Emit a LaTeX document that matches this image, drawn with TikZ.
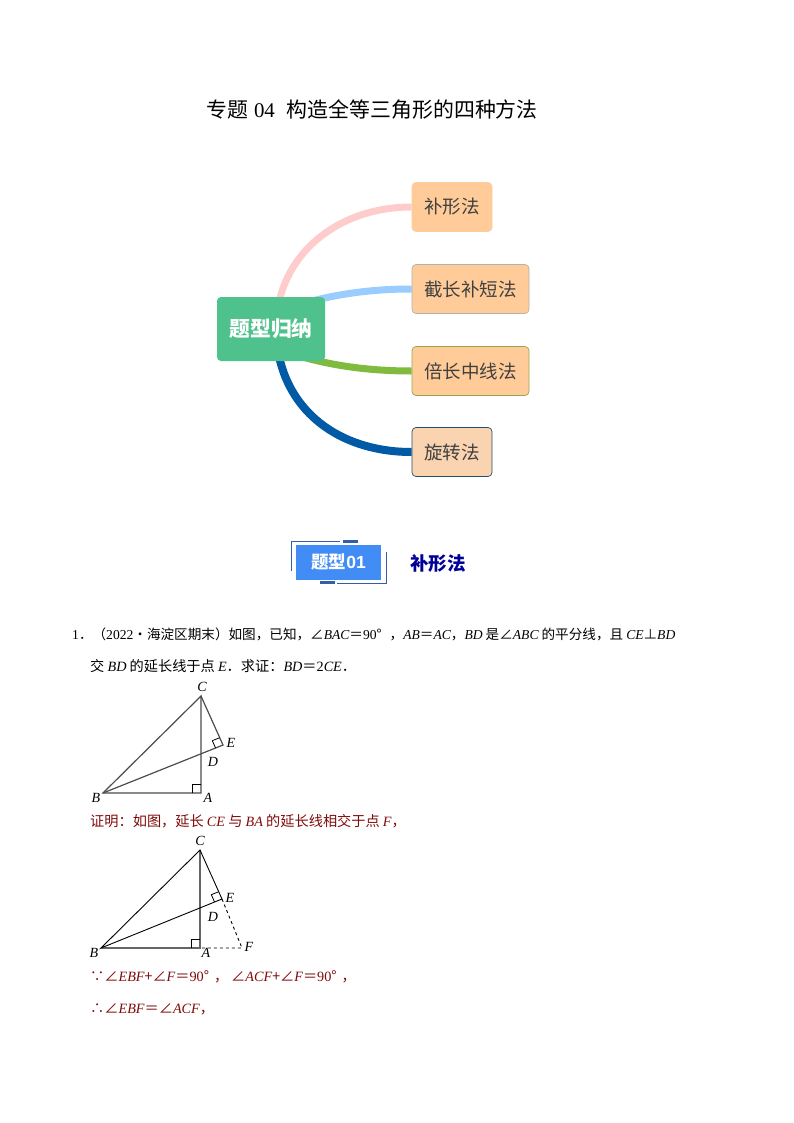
\documentclass[tikz,border=0pt]{standalone}
\usepackage{fontspec}
\setmainfont{Noto Sans CJK SC}
\newfontfamily\latfont{Liberation Serif}
\newfontfamily\headfont{Liberation Sans}
\usetikzlibrary{backgrounds}
\usetikzlibrary{calc}
\newcommand{\lat}[1]{{\latfont\itshape #1}}
\newcommand{\num}[1]{{\latfont #1}}
\definecolor{hubgreen}{RGB}{79,193,140}
\definecolor{boxorange}{RGB}{255,204,153}
\definecolor{boxpeach}{RGB}{250,211,176}
\definecolor{branchpink}{RGB}{255,204,204}
\definecolor{branchblue}{RGB}{153,204,255}
\definecolor{branchgreen}{RGB}{128,187,64}
\definecolor{branchnavy}{RGB}{0,90,165}
\definecolor{leafolive}{RGB}{150,165,80}
\definecolor{leafteal}{RGB}{30,80,110}
\definecolor{headblue}{RGB}{66,140,245}
\definecolor{frameblue}{RGB}{50,95,170}
\definecolor{proofred}{RGB}{128,10,10}
\tikzset{
  hubbox/.style={fill=hubgreen, rounded corners=4pt, minimum width=108pt, minimum height=64pt,
    inner sep=0pt, text=white, font=\fontsize{20.8}{21}\selectfont\bfseries},
  leafbox/.style={fill=boxorange, draw=#1, line width=0.7pt, rounded corners=4pt, minimum height=49pt,
    inner sep=0pt, text=black!75, font=\fontsize{18.5}{19}\selectfont},
  branch/.style={line width=#1},
  textline/.style={anchor=west, inner sep=0pt, font=\fontsize{13.6}{14}\selectfont},
  prooftext/.style={textline, text=proofred, font=\fontsize{14.2}{15}\selectfont},
  ptlabel/.style={inner sep=0pt, font=\fontsize{14}{14}\selectfont\latfont\itshape},
  tri/.style={line width=1.2pt, draw=black!70},
  thin tri/.style={line width=0.9pt, draw=black},
  thick tri/.style={line width=2pt, draw=black!60},
  right mark/.style={line width=0.8pt, draw=black},
  head frame/.style={line width=1pt, draw=frameblue}
}
\begin{document}
\begin{tikzpicture}[x=1pt,y=-1pt]
\useasboundingbox (0,0) rectangle (794,1123);

% Title
\node (title) [anchor=west, inner sep=0pt, font=\fontsize{20.9}{21}\selectfont] at (206,109.5) {专题\hspace{6pt}\num{04}\hspace{12pt}构造全等三角形的四种方法};

% Mind map
\node (hub) [hubbox] at (271,329) {题型归纳};
\node (leafa) [leafbox=boxorange, minimum width=80pt] at (452,207) {补形法};
\node (leafb) [leafbox=black!30, minimum width=117pt] at (470.5,289) {截长补短法};
\node (leafc) [leafbox=leafolive, minimum width=117pt] at (470.5,371) {倍长中线法};
\node (leafd) [leafbox=leafteal, fill=boxpeach, minimum width=80pt] at (452,452) {旋转法};

\begin{pgfonlayer}{background}
\draw [branch=7pt, branchpink] ($(hub.north)+(8,5)$) .. controls (292,245) and (345,207) .. (leafa.west);
\draw [branch=7pt, branchblue] ($(hub.north)+(34,6)$) .. controls (345,292) and (380,289) .. (leafb.west);
\draw [branch=7pt, branchgreen] ($(hub.south)+(29,-5)$) .. controls (340,368) and (380,371) .. (leafc.west);
\draw [branch=8pt, branchnavy] ($(hub.south)+(8,-5)$) .. controls (292,417) and (345,452) .. (leafd.west);
\end{pgfonlayer}

% Section heading
\draw [head frame] (340,541) -- (291,541) -- (291,571);
\draw [head frame] (386,552) -- (386,583) -- (337,583);
\fill [frameblue] (343,539.5) rectangle (358,542.5);
\fill [frameblue] (320,580.5) rectangle (335,583.5);
\node (head) [fill=headblue, minimum width=85pt, minimum height=35pt, inner sep=0pt, text=white,
  font=\fontsize{17.5}{18}\selectfont\bfseries] at (338.5,562) {题型{\headfont\bfseries 01}};
\node (headtext) [anchor=west, inner sep=0pt, text=blue!60!black, font=\fontsize{18.5}{19}\selectfont\bfseries] at (410,564) {补形法};

% Question
\node (qa) [textline] at (72,634) {\num{1}．（\num{2022}•海淀区期末）如图，已知，∠\lat{BAC}＝\num{90}°\hspace{8pt}，\lat{AB}＝\lat{AC}，\lat{BD} 是∠\lat{ABC} 的平分线，且 \lat{CE}⊥\lat{BD}};
\node (qb) [textline, font=\fontsize{14.2}{15}\selectfont] at (90,666) {交 \lat{BD} 的延长线于点 \lat{E}．求证：\lat{BD}＝\num{2}\lat{CE}．};

% First triangle
\coordinate (C1) at (201,696);
\coordinate (B1) at (103,793);
\coordinate (A1) at (201,793);
\coordinate (E1) at (223,745);
\draw [tri] (B1) -- (C1) -- (A1) -- cycle;
\draw [tri] (C1) -- (E1) -- (B1);
\draw [right mark] ($(A1)+(-9,0)$) -- ++(0,-9) -- ++(9,0);
\draw [right mark] ($(E1)!8pt!(C1)$) -- ($(E1)!8pt!(C1)+(E1)!8pt!(B1)-(E1)$) -- ($(E1)!8pt!(B1)$);
\node (lc1) [ptlabel] at (202,687) {C};
\node (le1) [ptlabel] at (231,743) {E};
\node (ld1) [ptlabel] at (213,762) {D};
\node (lb1) [ptlabel] at (96,798) {B};
\node (la1) [ptlabel] at (208,798) {A};

% Proof
\node (pa) [prooftext] at (90,821) {证明：如图，延长 \lat{CE} 与 \lat{BA} 的延长线相交于点 \lat{F}，};

% Second triangle
\coordinate (C2) at (200,850);
\coordinate (B2) at (101,948);
\coordinate (A2) at (200,948);
\coordinate (E2) at (222,899);
\coordinate (F2) at (242,948);
\draw [thick tri] (B2) -- (A2) -- (C2);
\draw [thin tri] (B2) -- (C2) -- (E2) -- cycle;
\draw [thin tri, dashed] (E2) -- (F2) -- (A2);
\draw [right mark] ($(A2)+(-9,0)$) -- ++(0,-9) -- ++(9,0);
\draw [right mark] ($(E2)!8pt!(C2)$) -- ($(E2)!8pt!(C2)+(E2)!8pt!(B2)-(E2)$) -- ($(E2)!8pt!(B2)$);
\node (lc2) [ptlabel] at (200,841) {C};
\node (le2) [ptlabel] at (230,898) {E};
\node (ld2) [ptlabel] at (213,917) {D};
\node (lb2) [ptlabel] at (94,953) {B};
\node (la2) [ptlabel] at (206,953) {A};
\node (lf2) [ptlabel] at (249,947) {F};

% Proof steps
\node (pb) [prooftext] at (90,977) {∵∠\lat{EBF}+∠\lat{F}＝\num{90}°\hspace{5pt}，\hspace{3pt}∠\lat{ACF}+∠\lat{F}＝\num{90}°\hspace{5pt}，};
\node (pc) [prooftext] at (90,1009) {∴∠\lat{EBF}＝∠\lat{ACF}，};
\end{tikzpicture}
\end{document}
